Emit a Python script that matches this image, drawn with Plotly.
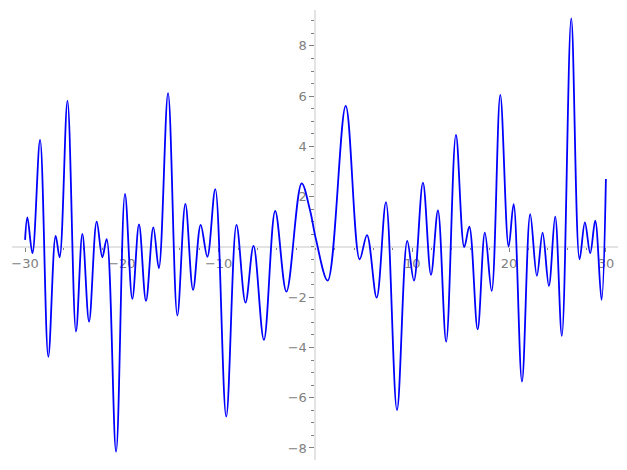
import plotly.graph_objects as go

# Curve sample points (local extrema and a few shoulder points)
x_vals = [-30.0, -29.76, -29.24, -28.45, -27.6, -26.84, -26.43, -25.62, -24.74, -24.08,
          -23.39, -22.6, -22.02, -21.57, -20.6, -19.68, -18.92, -18.23, -17.51, -16.75,
          -16.18, -15.23, -14.27, -13.44, -12.65, -11.86, -11.17, -10.35, -9.22, -8.16,
          -7.23, -6.4, -5.33, -4.16, -3.0, -1.43, -0.57, 0.05, 1.26, 3.12,
          4.56, 5.32, 6.32, 7.28, 8.42, 9.48, 10.17, 11.1, 11.93, 12.65,
          13.5, 14.51, 15.37, 15.89, 16.75, 17.5, 18.2, 19.09, 19.95, 20.47,
          21.33, 22.18, 22.87, 23.46, 24.11, 24.76, 25.45, 26.42, 27.28, 27.83,
          28.38, 28.9, 29.55, 30.0]
y_vals = [0.28, 1.18, -0.25, 4.26, -4.37, 0.44, -0.41, 5.81, -3.37, 0.52,
          -2.97, 1.01, -0.41, 0.31, -8.15, 2.11, -2.07, 0.9, -2.15, 0.78,
          -0.85, 6.12, -2.73, 1.71, -1.71, 0.88, -0.39, 2.3, -6.75, 0.88,
          -2.22, 0.04, -3.7, 1.43, -1.78, 2.53, 1.47, 0.3, -1.34, 5.61,
          -0.49, 0.47, -2.02, 1.78, -6.49, 0.24, -1.34, 2.56, -1.11, 1.45,
          -3.77, 4.46, -0.01, 0.81, -3.28, 0.57, -1.75, 6.05, 0.01, 1.7,
          -5.36, 1.3, -1.15, 0.57, -1.55, 1.21, -3.54, 9.1, -0.49, 0.98,
          -0.25, 1.05, -2.11, 2.7]

x_ticks = [-30, -20, -10, 10, 20, 30]
y_ticks = [-8, -6, -4, -2, 2, 4, 6, 8]

x_range = [-31.35, 31.25]
y_range = [-8.48, 9.43]

fig = go.Figure()
fig.add_trace(go.Scatter(
    x=x_vals, y=y_vals, mode="lines",
    line=dict(color="#0000ff", width=1.8, shape="spline", smoothing=1.0),
    showlegend=False, hoverinfo="skip",
))

axis_col = "#e3e3e3"
tick_col = "#808080"
font = dict(family="DejaVu Sans", size=13, color="#808080")

fig.update_layout(
    width=627, height=470,
    margin=dict(l=4, r=17, t=2, b=18),
    plot_bgcolor="white", paper_bgcolor="white",
    xaxis=dict(
        range=x_range, showgrid=False, zeroline=False,
        showline=True, linecolor=axis_col, linewidth=2,
        anchor="free", position=(0 - y_range[0]) / (y_range[1] - y_range[0]),
        tickvals=x_ticks, ticktext=[("\u2212" if v < 0 else "") + str(abs(v)) for v in x_ticks],
        ticks="outside", ticklen=4, tickwidth=1, tickcolor=tick_col,
        minor=dict(dtick=2, ticks="outside", ticklen=2, tickwidth=1, tickcolor=tick_col),
        tickfont=font, layer="below traces",
    ),
    yaxis=dict(
        range=y_range, showgrid=False, zeroline=False,
        showline=True, linecolor=axis_col, linewidth=2,
        anchor="free", position=(0 - x_range[0]) / (x_range[1] - x_range[0]),
        tickvals=y_ticks, ticktext=[("\u2212" if v < 0 else "") + str(abs(v)) for v in y_ticks],
        ticks="outside", ticklen=5, tickwidth=1, tickcolor=tick_col,
        minor=dict(dtick=0.5, ticks="outside", ticklen=3, tickwidth=1, tickcolor=tick_col),
        tickfont=font, layer="below traces",
    ),
)

fig.write_html("out.html")
